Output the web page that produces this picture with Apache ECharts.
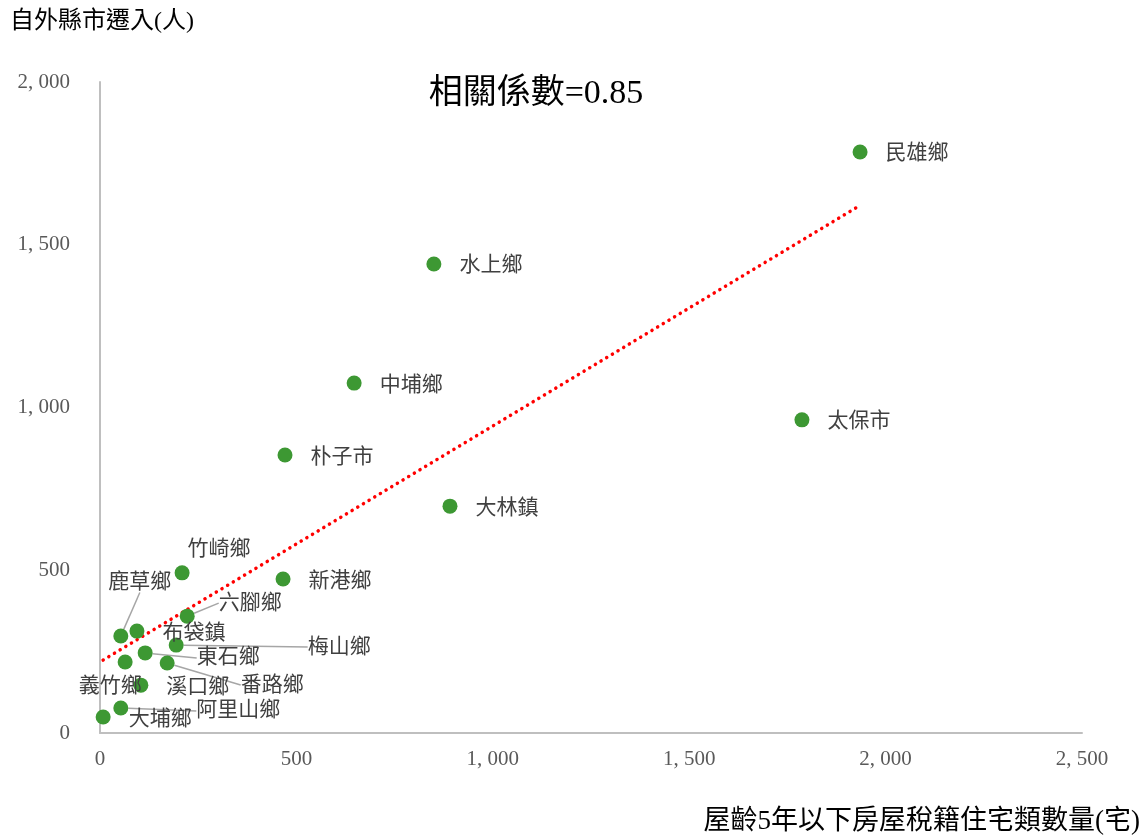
<!DOCTYPE html>
<html><head><meta charset="utf-8">
<script src="https://cdn.jsdelivr.net/npm/echarts@6/dist/echarts.min.js"></script>
<style>html,body{margin:0;padding:0;background:#fff}#c{width:1147px;height:838px}</style>
</head><body><div id="c"></div>
<script>
const towns = ['民雄鄉','水上鄉','中埔鄉','太保市','朴子市','大林鎮','竹崎鄉','新港鄉','六腳鄉','鹿草鄉','布袋鎮','梅山鄉','東石鄉','番路鄉','溪口鄉','義竹鄉','阿里山鄉','大埔鄉'];
const houses = [1935, 850, 647, 1787, 471, 891, 209, 466, 222, 53, 94, 194, 115, 171, 104, 64, 53, 8];
const migrants = [1785, 1441, 1075, 962, 854, 697, 492, 473, 359, 298, 313, 270, 246, 215, 147, 218, 77, 49];
const xTicks = [0, 500, 1000, 1500, 2000, 2500];
const yTicks = [0, 500, 1000, 1500, 2000];
const corrText = '相關係數=0.85';

// label nudges (dx, dy) and leader-line flags, by town
const labelMove = {
  '竹崎鄉': [-20, -25, false],
  '六腳鄉': [6, -15, true],
  '鹿草鄉': [-38, -56, true],
  '梅山鄉': [106, 0, true],
  '東石鄉': [26, 3, true],
  '番路鄉': [48, 20, true],
  '義竹鄉': [-72, 22, false],
  '阿里山鄉': [50, 1, true]
};

const FONT = '"Liberation Serif","Noto Sans CJK TC",serif';

// least squares trend line
const n = houses.length;
let sx=0, sy=0, sxx=0, sxy=0;
for (let i=0;i<n;i++){sx+=houses[i];sy+=migrants[i];sxx+=houses[i]*houses[i];sxy+=houses[i]*migrants[i];}
const b = (n*sxy - sx*sy)/(n*sxx - sx*sx);
const a = (sy - b*sx)/n;
const minX = Math.min(...houses), maxX = Math.max(...houses);
const trend = [[minX, a+b*minX],[maxX, a+b*maxX]];

const pts = towns.map((t,i)=>{
  const m = labelMove[t];
  return {name:t, value:[houses[i], migrants[i]], labelLine:{show: !!(m && m[2])}};
});

const chart = echarts.init(document.getElementById('c'));
chart.setOption({
  animation:false,
  grid:{left:100, top:82, right:65, bottom:105},
  title:{text:corrText, left:531, top:72, textAlign:'center',
    textStyle:{fontSize:34, fontWeight:'normal', color:'#000', fontFamily:FONT}},
  graphic:[
    {type:'text', left:10, top:10, style:{text:'自外縣市遷入(人)', font:'24px '+FONT, fill:'#000'}},
    {type:'text', right:7, top:808, style:{text:'屋齡5年以下房屋稅籍住宅類數量(宅)', font:'27px '+FONT, fill:'#000'}}
  ],
  xAxis:{type:'value', min:0, max:2500, interval:500,
    axisLine:{show:true, lineStyle:{color:'#bfbfbf', width:2}},
    axisTick:{show:false}, splitLine:{show:false},
    axisLabel:{color:'#595959', fontSize:21, fontFamily:FONT, margin:16,
      formatter:v=>xTicks.includes(v)?v.toLocaleString('en-US').replace(',', ', '):''}},
  yAxis:{type:'value', min:0, max:2000, interval:500,
    axisLine:{show:true, lineStyle:{color:'#bfbfbf', width:2}},
    axisTick:{show:false}, splitLine:{show:false},
    axisLabel:{color:'#595959', fontSize:21, fontFamily:FONT, margin:30,
      formatter:v=>yTicks.includes(v)?v.toLocaleString('en-US').replace(',', ', '):''}},
  series:[
    {type:'line', data:trend, symbol:'none', silent:true, z:1,
      lineStyle:{color:'#ff0000', width:3.5, type:[0.1,6.5], cap:'round'}},
    {type:'scatter', data:pts, symbolSize:15, z:3,
      itemStyle:{color:'#3d9833', opacity:1},
      label:{show:true, position:'right', distance:18, formatter:'{b}',
        color:'#404040', fontSize:21, fontFamily:FONT},
      labelLine:{lineStyle:{color:'#a6a6a6', width:1.5}},
      labelLayout:function(p){
        const m = labelMove[towns[p.dataIndex]];
        return m ? {dx:m[0], dy:m[1] + 2} : {dy:2};
      }}
  ]
});
</script></body></html>
